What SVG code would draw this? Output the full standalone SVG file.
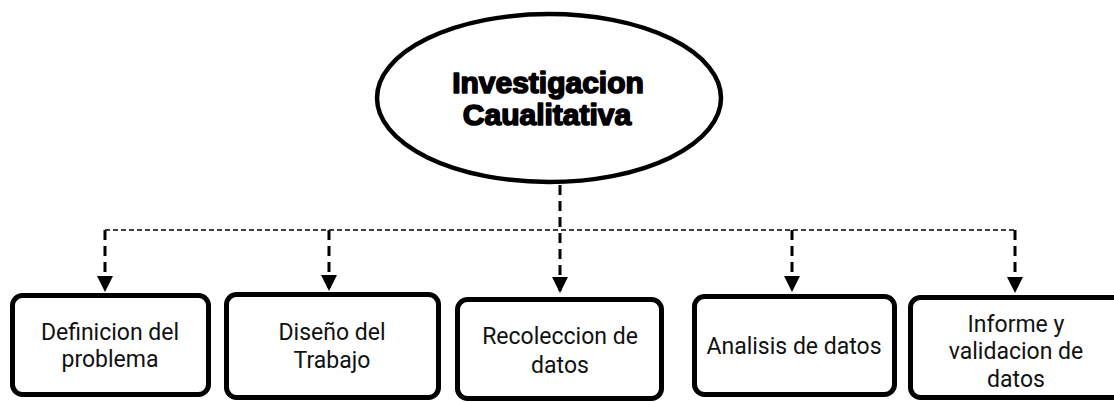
<svg xmlns="http://www.w3.org/2000/svg" width="1114" height="402" viewBox="0 0 1114 402">
<style>
.box{fill:#fff;stroke:#000;stroke-width:5}
.lbl{font-family:Roboto,"Liberation Sans",sans-serif;font-size:23px;fill:#111;text-anchor:middle}
.title{font-family:"Liberation Sans",Arial,sans-serif;font-weight:bold;font-size:30px;fill:#000;stroke:#000;stroke-width:1.6;stroke-linejoin:round;text-anchor:middle}
.h{fill:none;stroke:#000;stroke-width:1.5;stroke-dasharray:5 3}
.v{fill:none;stroke:#000;stroke-width:3;stroke-dasharray:10 6}
</style>
<defs>
<marker id="ah" markerUnits="userSpaceOnUse" markerWidth="16" markerHeight="16" refX="16" refY="8" orient="auto">
<path d="M0,0 L16,8 L0,16 z" fill="#000"/>
</marker>
</defs>
<g id="connectors">
<path class="h" d="M105,230 H1015"/>
<path class="v" d="M560,185 V293" marker-end="url(#ah)"/>
<path class="v" d="M105,230 V292" marker-end="url(#ah)"/>
<path class="v" d="M329,230 V291" marker-end="url(#ah)"/>
<path class="v" d="M792,230 V292" marker-end="url(#ah)"/>
<path class="v" d="M1015,230 V293" marker-end="url(#ah)"/>
</g>
<g id="root">
<ellipse cx="549" cy="98" rx="172" ry="84" fill="#fff" stroke="#000" stroke-width="4.5"/>
<text class="title" x="548" y="93">Investigacion</text>
<text class="title" x="547" y="125">Caualitativa</text>
</g>
<g id="n1">
<rect class="box" x="12.5" y="295.5" width="196" height="99" rx="10"/>
<text class="lbl" x="110" y="340">Definicion del</text>
<text class="lbl" x="110" y="367">problema</text>
</g>
<g id="n2">
<rect class="box" x="226.5" y="294.5" width="212" height="103" rx="10"/>
<text class="lbl" x="332" y="340">Diseño del</text>
<text class="lbl" x="332" y="368">Trabajo</text>
</g>
<g id="n3">
<rect class="box" x="457.5" y="299.5" width="204" height="99" rx="10"/>
<text class="lbl" x="560" y="344">Recoleccion de</text>
<text class="lbl" x="560" y="373">datos</text>
</g>
<g id="n4">
<rect class="box" x="694.5" y="296.5" width="200" height="98" rx="10"/>
<text class="lbl" x="794" y="354">Analisis de datos</text>
</g>
<g id="n5">
<rect class="box" x="910.5" y="297.5" width="215" height="100" rx="10"/>
<text class="lbl" x="1016" y="332">Informe y</text>
<text class="lbl" x="1016" y="359">validacion de</text>
<text class="lbl" x="1016" y="387">datos</text>
</g>
</svg>
